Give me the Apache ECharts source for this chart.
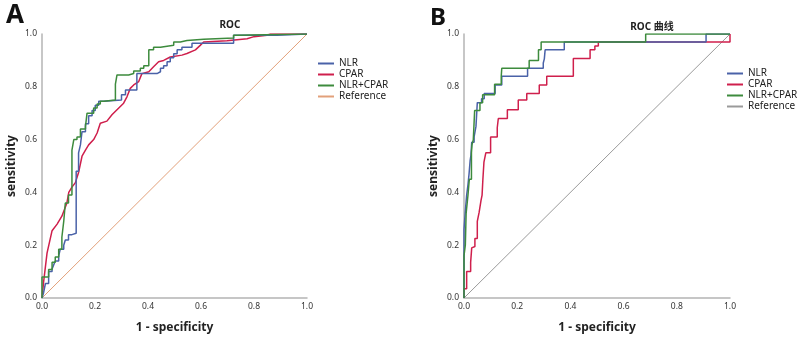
<!DOCTYPE html>
<html>
<head>
<meta charset="utf-8">
<script src="https://cdn.jsdelivr.net/npm/echarts@6/dist/echarts.min.js"></script>
<style>
  html, body { margin: 0; padding: 0; background: #fff; }
  #chart { width: 800px; height: 339px; }
</style>
</head>
<body>
<div id="chart"></div>
<script>
// 曲线数据 (x = 1 - specificity, y = sensitivity)
var names = ['NLR', 'CPAR', 'NLR+CPAR', 'Reference']
var ticks = [0, 0.2, 0.4, 0.6, 0.8, 1.0]

var nlrA = [[0,0],[0.006,0],[0.006,0.02],[0.013,0.02],[0.013,0.055],[0.025,0.055],[0.025,0.1],[0.038,0.1],[0.038,0.11],[0.044,0.11],[0.044,0.125],[0.05,0.125],[0.05,0.14],[0.063,0.14],[0.063,0.16],[0.069,0.16],[0.069,0.185],[0.082,0.185],[0.082,0.2],[0.088,0.2],[0.088,0.22],[0.1,0.22],[0.1,0.24],[0.113,0.24],[0.113,0.245],[0.129,0.245],[0.129,0.48],[0.138,0.48],[0.138,0.55],[0.145,0.55],[0.145,0.58],[0.151,0.58],[0.151,0.63],[0.164,0.63],[0.164,0.66],[0.176,0.66],[0.176,0.69],[0.189,0.69],[0.189,0.71],[0.201,0.71],[0.201,0.73],[0.214,0.73],[0.214,0.745],[0.233,0.745],[0.233,0.75],[0.3,0.75],[0.3,0.77],[0.315,0.77],[0.315,0.788],[0.358,0.788],[0.358,0.85],[0.434,0.85],[0.434,0.857],[0.447,0.857],[0.447,0.87],[0.459,0.87],[0.459,0.88],[0.472,0.88],[0.472,0.895],[0.484,0.895],[0.484,0.91],[0.497,0.91],[0.497,0.925],[0.51,0.925],[0.51,0.94],[0.528,0.94],[0.528,0.95],[0.566,0.95],[0.566,0.965],[0.723,0.965],[0.723,0.995],[0.887,0.995],[0.887,1],[1,1]]
var cparA = [[0,0],[0.006,0.06],[0.019,0.17],[0.038,0.255],[0.057,0.28],[0.075,0.31],[0.094,0.36],[0.101,0.4],[0.113,0.42],[0.126,0.437],[0.138,0.475],[0.151,0.537],[0.164,0.56],[0.176,0.58],[0.195,0.6],[0.208,0.625],[0.22,0.662],[0.245,0.67],[0.264,0.694],[0.283,0.713],[0.308,0.738],[0.321,0.763],[0.333,0.794],[0.346,0.807],[0.365,0.82],[0.377,0.85],[0.403,0.857],[0.421,0.876],[0.44,0.895],[0.459,0.9],[0.484,0.913],[0.528,0.92],[0.547,0.926],[0.579,0.94],[0.597,0.957],[0.61,0.97],[0.698,0.974],[0.774,0.982],[0.8,0.99],[0.849,0.995],[0.862,1],[1,1]]
var comboA = [[0,0],[0,0.08],[0.025,0.08],[0.025,0.108],[0.038,0.108],[0.038,0.135],[0.05,0.135],[0.05,0.155],[0.063,0.155],[0.063,0.185],[0.075,0.185],[0.075,0.23],[0.082,0.23],[0.082,0.29],[0.088,0.29],[0.088,0.36],[0.1,0.36],[0.1,0.39],[0.113,0.39],[0.113,0.56],[0.12,0.56],[0.12,0.6],[0.132,0.6],[0.132,0.61],[0.145,0.61],[0.145,0.64],[0.164,0.64],[0.164,0.65],[0.17,0.65],[0.17,0.7],[0.195,0.7],[0.195,0.72],[0.208,0.72],[0.208,0.735],[0.22,0.735],[0.22,0.745],[0.233,0.745],[0.233,0.75],[0.277,0.75],[0.277,0.81],[0.283,0.81],[0.283,0.845],[0.327,0.845],[0.327,0.85],[0.346,0.85],[0.346,0.86],[0.371,0.86],[0.371,0.87],[0.384,0.87],[0.384,0.88],[0.403,0.88],[0.403,0.94],[0.421,0.94],[0.421,0.95],[0.447,0.95],[0.447,0.957],[0.497,0.957],[0.497,0.97],[0.522,0.97],[0.522,0.975],[0.547,0.975],[0.547,0.98],[0.61,0.98],[0.61,0.985],[0.723,0.985],[0.723,0.995],[0.736,0.995],[0.736,1],[1,1]]

var nlrB = [[0,0],[0,0.26],[0.005,0.26],[0.005,0.33],[0.01,0.33],[0.01,0.39],[0.015,0.39],[0.015,0.43],[0.019,0.43],[0.019,0.47],[0.023,0.47],[0.023,0.52],[0.026,0.52],[0.026,0.54],[0.029,0.54],[0.029,0.59],[0.038,0.59],[0.038,0.61],[0.045,0.61],[0.045,0.65],[0.05,0.65],[0.05,0.74],[0.066,0.74],[0.066,0.755],[0.076,0.755],[0.076,0.775],[0.117,0.775],[0.117,0.807],[0.142,0.807],[0.142,0.84],[0.239,0.84],[0.239,0.87],[0.298,0.87],[0.298,0.89],[0.302,0.89],[0.302,0.906],[0.305,0.906],[0.305,0.94],[0.377,0.94],[0.377,0.97],[0.91,0.97],[0.91,1],[1,1]]
var cparB = [[0,0],[0,0.035],[0.01,0.035],[0.01,0.1],[0.025,0.1],[0.025,0.135],[0.029,0.135],[0.029,0.19],[0.035,0.19],[0.035,0.195],[0.041,0.195],[0.041,0.225],[0.05,0.225],[0.05,0.29],[0.057,0.29],[0.057,0.325],[0.064,0.325],[0.064,0.37],[0.068,0.37],[0.068,0.39],[0.071,0.39],[0.071,0.45],[0.075,0.45],[0.075,0.515],[0.082,0.515],[0.082,0.55],[0.1,0.55],[0.1,0.61],[0.125,0.61],[0.125,0.645],[0.129,0.645],[0.129,0.68],[0.163,0.68],[0.163,0.713],[0.204,0.713],[0.204,0.75],[0.236,0.75],[0.236,0.775],[0.283,0.775],[0.283,0.807],[0.311,0.807],[0.311,0.84],[0.411,0.84],[0.411,0.907],[0.474,0.907],[0.474,0.94],[0.492,0.94],[0.492,0.955],[0.505,0.955],[0.505,0.97],[1,0.97],[1,1]]
var comboB = [[0,0],[0,0.16],[0.005,0.16],[0.005,0.2],[0.008,0.2],[0.008,0.32],[0.015,0.32],[0.015,0.39],[0.02,0.39],[0.02,0.45],[0.028,0.45],[0.028,0.55],[0.03,0.55],[0.03,0.58],[0.035,0.58],[0.035,0.6],[0.04,0.6],[0.04,0.71],[0.06,0.71],[0.06,0.74],[0.07,0.74],[0.07,0.77],[0.115,0.77],[0.115,0.81],[0.14,0.81],[0.14,0.84],[0.142,0.84],[0.142,0.87],[0.245,0.87],[0.245,0.9],[0.28,0.9],[0.28,0.94],[0.29,0.94],[0.29,0.97],[0.683,0.97],[0.683,1],[1,1]]

var refLine = [[0,0],[1,1]]

var colors = {
  NLR: '#4a62a8',
  CPAR: '#cf1f4c',
  combo: '#3d8b3d',
  refA: '#e2a07a',
  refB: '#9a9a9a'
}

var fontFamily = '"Noto Sans", "Noto Sans CJK SC", sans-serif'

function xAxisOf (idx) {
  return {
    gridIndex: idx,
    type: 'value',
    min: 0,
    max: 1,
    interval: 0.2,
    name: '1 - specificity',
    nameLocation: 'middle',
    nameGap: 24,
    nameTextStyle: { fontSize: 12, fontWeight: 'bold', color: '#222', fontFamily: fontFamily },
    axisLine: { show: true, lineStyle: { color: '#b4b4b4', width: 1.5 } },
    axisTick: { show: false },
    splitLine: { show: false },
    axisLabel: {
      fontSize: 8.5,
      color: '#333',
      margin: 4,
      fontFamily: fontFamily,
      formatter: function (v) { return v.toFixed(1) }
    }
  }
}

function yAxisOf (idx) {
  return {
    gridIndex: idx,
    type: 'value',
    min: 0,
    max: 1,
    interval: 0.2,
    name: 'sensitivity',
    nameLocation: 'middle',
    nameGap: 24,
    nameTextStyle: { fontSize: 12, fontWeight: 'bold', color: '#222', fontFamily: fontFamily },
    axisLine: { show: true, lineStyle: { color: '#b4b4b4', width: 1.5 } },
    axisTick: { show: false },
    splitLine: { show: false },
    axisLabel: {
      fontSize: 8.5,
      color: '#333',
      margin: 5,
      fontFamily: fontFamily,
      formatter: function (v) { return v.toFixed(1) }
    }
  }
}

function lineSeries (name, data, color, idx, width) {
  return {
    name: name,
    type: 'line',
    xAxisIndex: idx,
    yAxisIndex: idx,
    data: data,
    symbol: 'none',
    silent: true,
    animation: false,
    lineStyle: { color: color, width: width || 1.5 },
    itemStyle: { color: color }
  }
}

function legendOf (left, top, refColor) {
  return {
    orient: 'vertical',
    left: left,
    top: top,
    padding: 0,
    itemWidth: 16,
    itemHeight: 2,
    itemGap: 0,
    icon: 'rect',
    selectedMode: false,
    textStyle: { fontSize: 10, color: '#222', lineHeight: 11, fontFamily: fontFamily },
    data: [
      { name: names[0], itemStyle: { color: colors.NLR } },
      { name: names[1], itemStyle: { color: colors.CPAR } },
      { name: names[2], itemStyle: { color: colors.combo } },
      { name: names[3], itemStyle: { color: refColor } }
    ]
  }
}

var chart = echarts.init(document.getElementById('chart'))
var option = {
  backgroundColor: '#fff',
  title: [
    { text: 'A', left: 1, top: -2, textStyle: { fontSize: 26, fontWeight: 'bold', color: '#111', fontFamily: fontFamily } },
    { text: 'B', left: 425, top: 1, textStyle: { fontSize: 24, fontWeight: 'bold', color: '#111', fontFamily: fontFamily } },
    { text: 'ROC', left: 225, top: 15, textAlign: 'center', textStyle: { fontSize: 10, fontWeight: 'bold', color: '#222', fontFamily: fontFamily } },
    { text: 'ROC 曲线', left: 647, top: 17, textAlign: 'center', textStyle: { fontSize: 10, fontWeight: 'bold', color: '#222', fontFamily: fontFamily } }
  ],
  legend: [
    legendOf(318, 58, colors.refA),
    legendOf(727, 68, colors.refB)
  ],
  grid: [
    { left: 42, top: 34, width: 265, height: 265 },
    { left: 464, top: 34, width: 266, height: 265 }
  ],
  xAxis: [xAxisOf(0), xAxisOf(1)],
  yAxis: [yAxisOf(0), yAxisOf(1)],
  series: [
    lineSeries(names[3], refLine, colors.refA, 0, 1),
    lineSeries(names[1], cparA, colors.CPAR, 0),
    lineSeries(names[0], nlrA, colors.NLR, 0),
    lineSeries(names[2], comboA, colors.combo, 0),
    lineSeries(names[3], refLine, colors.refB, 1, 1),
    lineSeries(names[1], cparB, colors.CPAR, 1),
    lineSeries(names[0], nlrB, colors.NLR, 1),
    lineSeries(names[2], comboB, colors.combo, 1)
  ]
}
chart.setOption(option)
</script>
</body>
</html>
